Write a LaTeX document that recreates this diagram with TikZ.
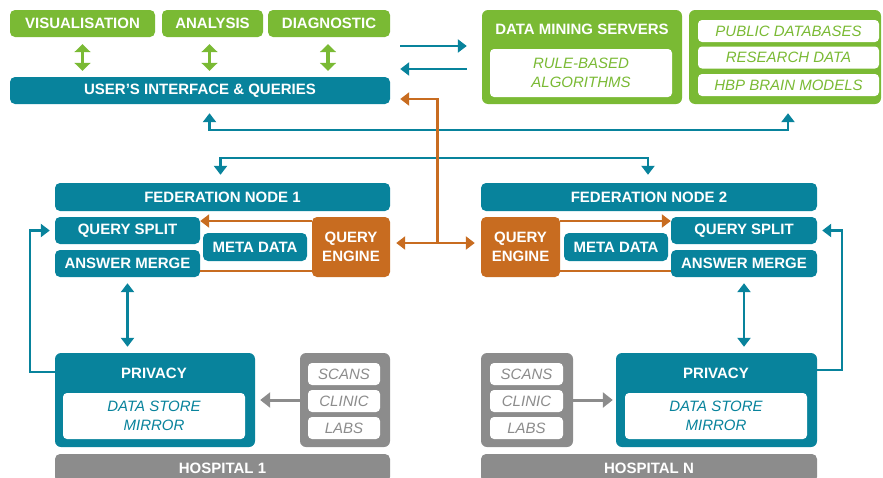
\documentclass[tikz,border=0pt]{standalone}
\usepackage{fontspec}
\setmainfont{Liberation Sans}
\usetikzlibrary{arrows.meta,calc}
\definecolor{tealc}{RGB}{8,131,156}
\definecolor{greenc}{RGB}{122,186,52}
\definecolor{orangec}{RGB}{200,108,32}
\definecolor{grayc}{RGB}{140,140,140}
\begin{document}
\begin{tikzpicture}[x=1pt,y=-1pt,
  sz/.style 2 args={minimum width=#1pt,minimum height=#2pt},
  base/.style={rounded corners=5pt, inner sep=0pt, align=center,
    font=\fontsize{15}{19.5}\selectfont\bfseries, text=white},
  gbox/.style={base, fill=greenc},
  tbox/.style={base, fill=tealc},
  obox/.style={base, fill=orangec},
  hbox/.style={base, fill=grayc},
  wbox/.style={rounded corners=4pt, inner sep=0pt, fill=white, align=center,
    font=\fontsize{15}{19.5}\selectfont\itshape},
  ttl/.style={inner sep=0pt, font=\fontsize{15}{19.5}\selectfont\bfseries, text=white},
  bl/.style={draw=tealc, line width=2.5pt, >={Triangle[width=13pt,length=9pt]}},
  og/.style={draw=orangec, line width=2.5pt, >={Triangle[width=13pt,length=9pt]}},
  gr/.style={draw=grayc, line width=3pt, >={Triangle[width=15pt,length=10pt]}},
  gn/.style={draw=greenc, line width=3.5pt, >={Triangle[width=16pt,length=8pt]}},
]
\path[use as bounding box, clip] (0,0) rectangle (883,477);

% top row
\node[gbox, sz={145}{27}] (vis) at (82.5,23.5) {VISUALISATION};
\node[gbox, sz={101}{27}] (ana) at (212.5,23.5) {ANALYSIS};
\node[gbox, sz={122}{27}] (diag) at (329,23.5) {DIAGNOSTIC};
\node[tbox, sz={380}{27}] (ui) at (200,90.5) {USER'S INTERFACE \& QUERIES};

% data mining servers
\node[gbox, rounded corners=6pt, sz={200}{94}] (dms) at (582,57) {};
\node[ttl] (dmst) at (582,29) {DATA MINING SERVERS};
\node[wbox, text=greenc, sz={182}{48}] (rba) at (581,73) {RULE-BASED\\ALGORITHMS};

% public data
\node[gbox, rounded corners=6pt, sz={192}{94}] (pub) at (785,57) {};
\node[wbox, text=greenc, sz={181}{22}] (pdb) at (788.5,31) {PUBLIC DATABASES};
\node[wbox, text=greenc, sz={181}{22}] (rsd) at (788.5,57.5) {RESEARCH DATA};
\node[wbox, text=greenc, sz={181}{22}] (hbp) at (788.5,85) {HBP BRAIN MODELS};

% federation node 1
\node[tbox, sz={335}{28}] (fed1) at (222.5,197) {FEDERATION NODE 1};
\node[tbox, sz={145}{27}] (qs1) at (127.5,230.5) {QUERY SPLIT};
\node[tbox, sz={145}{27}] (am1) at (127.5,263.5) {ANSWER MERGE};
\node[tbox, sz={104}{28}] (md1) at (255,247) {META DATA};
\node[obox, sz={78}{60}] (qe1) at (351,247) {QUERY\\ENGINE};

% federation node 2
\node[tbox, sz={336}{28}] (fed2) at (649,197) {FEDERATION NODE 2};
\node[obox, sz={79}{60}] (qe2) at (520.5,247) {QUERY\\ENGINE};
\node[tbox, sz={104}{28}] (md2) at (616,247) {META DATA};
\node[tbox, sz={146}{27}] (qs2) at (744,230.5) {QUERY SPLIT};
\node[tbox, sz={146}{27}] (am2) at (744,263.5) {ANSWER MERGE};

% hospital 1
\node[tbox, rounded corners=6pt, sz={200}{94}] (priv1) at (155,400) {};
\node[ttl] (priv1t) at (154,373) {PRIVACY};
\node[wbox, text=tealc, sz={182}{46}] (ds1) at (154,416) {DATA STORE\\MIRROR};
\node[hbox, rounded corners=6pt, sz={90}{94}] (src1) at (345,400) {};
\node[wbox, text=grayc, sz={72}{22}] (sc1) at (344,374) {SCANS};
\node[wbox, text=grayc, sz={72}{22}] (cl1) at (344,401) {CLINIC};
\node[wbox, text=grayc, sz={72}{22}] (lb1) at (344,428) {LABS};
\node[hbox, sz={335}{28}] (h1) at (222.5,468) {HOSPITAL 1};

% hospital N
\node[tbox, rounded corners=6pt, sz={201}{94}] (priv2) at (716.5,400) {};
\node[ttl] (priv2t) at (716,373) {PRIVACY};
\node[wbox, text=tealc, sz={182}{46}] (ds2) at (716,416) {DATA STORE\\MIRROR};
\node[hbox, rounded corners=6pt, sz={92}{94}] (src2) at (527,400) {};
\node[wbox, text=grayc, sz={73}{22}] (sc2) at (526.5,374) {SCANS};
\node[wbox, text=grayc, sz={73}{22}] (cl2) at (526.5,401) {CLINIC};
\node[wbox, text=grayc, sz={73}{22}] (lb2) at (526.5,428) {LABS};
\node[hbox, sz={336}{28}] (h2) at (649,468) {HOSPITAL N};

% green arrows
\draw[gn,<->] ($(vis.south)+(0pt,-7pt)$) -- ($(vis.south |- ui.north)+(0pt,6pt)$);
\draw[gn,<->] ($(ana.south)+(-3pt,-7pt)$) -- ($(ana.south |- ui.north)+(-3pt,6pt)$);
\draw[gn,<->] ($(diag.south)+(-1pt,-7pt)$) -- ($(diag.south |- ui.north)+(-1pt,6pt)$);

% UI <-> data mining
\draw[bl,->] ($(ui.east |- 0,46)+(10pt,0pt)$) -- ($(dms.west |- 0,46)+(-15pt,0pt)$);
\draw[bl,->] ($(dms.west |- 0,69)+(-15pt,0pt)$) -- ($(ui.east |- 0,69)+(10pt,0pt)$);

% UI <-> public data
\coordinate (u1) at ($(ana.south |- ui.south)+(-3pt,-9pt)$);
\coordinate (p1) at ($(pub.south)+(3pt,-9pt)$);
\draw[bl,<->] (u1) -- (u1 |- 0,130) -| (p1);

% to federation nodes
\coordinate (f1) at ($(fed1.north)+(-2pt,8pt)$);
\coordinate (f2) at ($(fed2.north)+(-1pt,8pt)$);
\draw[bl,<->] (f1) -- (f1 |- 0,158) -| (f2);

% query engines
\coordinate (oj) at ($(qe1.east)!0.5!(qe2.west)+(2pt,0pt)$);
\draw[og,<->] ($(qe1.east |- 0,243)+(6pt,0pt)$) -- ($(qe2.west |- 0,243)+(-6pt,0pt)$);
\draw[og,->] (oj |- 0,243) -- (oj |- 0,99) -- ($(ui.east |- 0,99)+(10pt,0pt)$);
\draw[og,->] (qe1.west |- 0,221) -- (qs1.east |- 0,221);
\draw[og] (qe1.west |- 0,271) -- (am1.east |- 0,271);
\draw[og,->] (qe2.east |- 0,221) -- (qs2.west |- 0,221);
\draw[og] (qe2.east |- 0,271) -- (am2.west |- 0,271);

% loops
\draw[bl,->] (priv1.west |- 0,372) -- ++(-25pt,0pt) |- ($(qs1.west)+(-5pt,0pt)$);
\draw[bl,->] (priv2.east |- 0,370) -- ++(25pt,0pt) |- ($(qs2.east)+(5pt,0pt)$);
\draw[bl,<->] ($(am1.south)+(0pt,-6pt)$) -- ($(am1.south |- priv1.north)+(0pt,6pt)$);
\draw[bl,<->] ($(am2.south)+(0pt,-6pt)$) -- ($(am2.south |- priv2.north)+(0pt,6pt)$);

% sources
\draw[gr,->] (src1.west) -- ($(priv1.east)+(5pt,0pt)$);
\draw[gr,->] (src2.east) -- ($(priv2.west)+(-3pt,0pt)$);
\end{tikzpicture}
\end{document}
